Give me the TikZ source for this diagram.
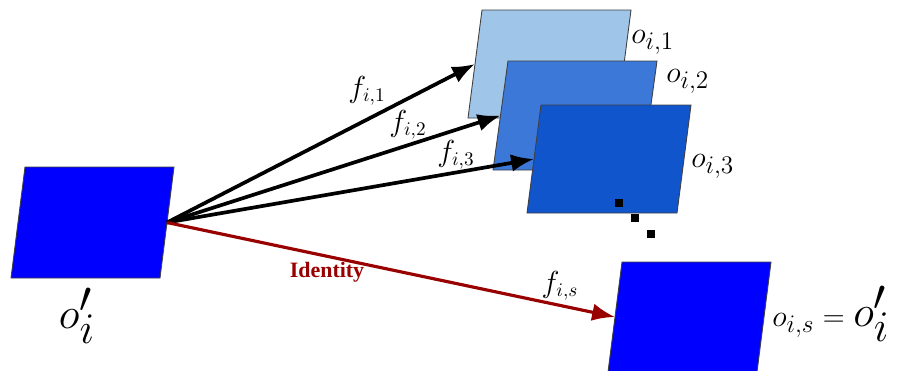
\documentclass[tikz,border=0pt]{standalone}
\usepackage{fontspec}
\usetikzlibrary{arrows.meta,calc}
\newfontfamily\idfont{Liberation Serif}
\definecolor{lightplane}{HTML}{9FC5E8}
\definecolor{midplane}{HTML}{3C78D8}
\definecolor{darkplane}{HTML}{1155CC}
\definecolor{pureblue}{HTML}{0000FF}
\definecolor{idred}{HTML}{990000}
\begin{document}
\begin{tikzpicture}[x=0.02cm,y=-0.02cm]
\useasboundingbox (0,0) rectangle (909,370);
\tikzset{
  plane/.style={draw=black!75, line width=0.5pt},
  maparrow/.style={draw=black, line width=2.1pt, -{Latex[length=13pt,width=10pt]}},
  idarrow/.style={draw=idred, line width=1.8pt, -{Latex[length=13pt,width=10pt]}},
  olbl/.style={inner sep=0pt, font=\fontsize{19}{21}\selectfont},
  flbl/.style={inner sep=0pt, font=\fontsize{16}{18}\selectfont},
  biglbl/.style={inner sep=0pt, font=\fontsize{33}{36}\selectfont},
  dot/.style={fill=black, minimum size=8*0.02cm, inner sep=0pt, outer sep=0pt},
}
% source plane
\coordinate (sTL) at (25,167); \coordinate (sTR) at (174,167);
\coordinate (sBR) at (160,278); \coordinate (sBL) at (11,278);
\coordinate (src) at ($(sTR)!0.5!(sBR)$);
\fill[pureblue, plane] (sTL) -- (sTR) -- (sBR) -- (sBL) -- cycle;
% plane 1
\coordinate (aTL) at (482,10); \coordinate (aTR) at (631,10);
\coordinate (aBR) at (617,118); \coordinate (aBL) at (468,118);
\coordinate (t1) at ($(aTL)!0.5!(aBL)$);
\fill[lightplane, plane] (aTL) -- (aTR) -- (aBR) -- (aBL) -- cycle;
% plane 2
\coordinate (bTL) at (508,61); \coordinate (bTR) at (657,61);
\coordinate (bBR) at (642,170); \coordinate (bBL) at (493,170);
\coordinate (t2) at ($(bTL)!0.5!(bBL)$);
\fill[midplane, plane] (bTL) -- (bTR) -- (bBR) -- (bBL) -- cycle;
% plane 3
\coordinate (cTL) at (541,105); \coordinate (cTR) at (691,105);
\coordinate (cBR) at (677,213); \coordinate (cBL) at (527,213);
\coordinate (t3) at ($(cTL)!0.5!(cBL)$);
\fill[darkplane, plane] (cTL) -- (cTR) -- (cBR) -- (cBL) -- cycle;
% identity plane
\coordinate (dTL) at (622,262); \coordinate (dTR) at (771,262);
\coordinate (dBR) at (757,372); \coordinate (dBL) at (608,372);
\coordinate (ts) at ($(dTL)!0.5!(dBL)$);
\fill[pureblue, plane] (dTL) -- (dTR) -- (dBR) -- (dBL) -- cycle;
% dots
\node[dot] (d1) at (619,203) {};
\node[dot] (d2) at (635,218) {};
\node[dot] (d3) at (651,234) {};
% arrows
\draw[maparrow] (src) -- (t1);
\draw[maparrow] (src) -- (t2);
\draw[maparrow] (src) -- (t3);
\draw[idarrow] (src) -- (ts);
% labels
\node[biglbl] (lsrc) at (77,316) {$o'_i$};
\node[olbl, anchor=base west] (l1) at (631,43) {$o_{i,1}$};
\node[olbl, anchor=base west] (l2) at (666,82) {$o_{i,2}$};
\node[olbl, anchor=base west] (l3) at (691,167) {$o_{i,3}$};
\node[olbl, anchor=base west] (ls) at (772,326) {$o_{i,s} = \mbox{\fontsize{33}{36}\selectfont$o'_i$}$};
\node[flbl] (f1) at (367,91) {$f_{i,1}$};
\node[flbl] (f2) at (408,125) {$f_{i,2}$};
\node[flbl] (f3) at (456,155) {$f_{i,3}$};
\node[flbl] (fs) at (560,286) {$f_{i,s}$};
\node[inner sep=0pt, text=idred, font=\idfont\bfseries\fontsize{12.5}{14}\selectfont] (idl) at (327,272) {Identity};
\end{tikzpicture}
\end{document}
